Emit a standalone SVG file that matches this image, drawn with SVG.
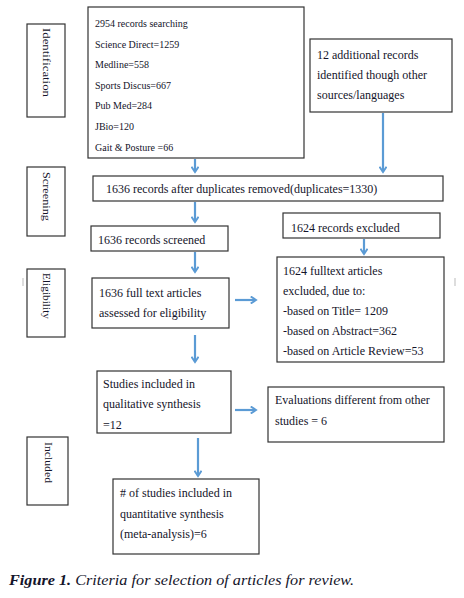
<svg xmlns="http://www.w3.org/2000/svg" width="464" height="598" viewBox="0 0 464 598">
<style>
.box{fill:#fff;stroke:#333;stroke-width:1.2}
.t{font-family:"Liberation Serif","DejaVu Serif",serif;fill:#14142a}
.s{font-size:10px}
.m{font-size:12px}
.lab{font-family:"Liberation Serif","DejaVu Serif",serif;font-size:11px;fill:#14142a}
.c{stroke:#5b9bd5;stroke-width:2.2;fill:none;marker-end:url(#ah)}
</style>
<defs>
<marker id="ah" viewBox="0 0 10 10" refX="8" refY="5" markerWidth="4" markerHeight="4" orient="auto" markerUnits="strokeWidth">
<polyline points="2,1 8,5 2,9" fill="none" stroke="#5b9bd5" stroke-width="2.2"/>
</marker>
</defs>
<rect width="464" height="598" fill="#fff"/>

<g id="lab-identification">
<rect class="box" x="27" y="24" width="38" height="93"/>
<text class="lab" transform="translate(43,28) rotate(90)" textLength="69" lengthAdjust="spacingAndGlyphs">Identification</text>
</g>
<g id="lab-screening">
<rect class="box" x="27" y="167" width="38" height="69"/>
<text class="lab" transform="translate(43,172) rotate(90)" textLength="49" lengthAdjust="spacingAndGlyphs">Screening</text>
</g>
<g id="lab-eligibility">
<rect class="box" x="27" y="269" width="38" height="68"/>
<text class="lab" transform="translate(43,273) rotate(90)" textLength="46" lengthAdjust="spacingAndGlyphs">Eligibility</text>
</g>
<g id="lab-included">
<rect class="box" x="27" y="437" width="41" height="68"/>
<text class="lab" transform="translate(45,442) rotate(90)" textLength="41" lengthAdjust="spacingAndGlyphs">Included</text>
</g>

<g id="n-search">
<rect class="box" x="88" y="7" width="216" height="151"/>
<text class="t s" x="95" y="27">2954 records searching</text>
<text class="t s" x="95" y="47.5">Science Direct=1259</text>
<text class="t s" x="95" y="68">Medline=558</text>
<text class="t s" x="95" y="88.5">Sports Discus=667</text>
<text class="t s" x="95" y="109">Pub Med=284</text>
<text class="t s" x="95" y="130" font-size="9">JBio=120</text>
<text class="t s" x="95" y="150.5">Gait &amp; Posture =66</text>
</g>
<g id="n-additional">
<rect class="box" x="310" y="39" width="142" height="73"/>
<text class="t m" x="317" y="59" font-size="12.5">12 additional records</text>
<text class="t m" x="317" y="78.5" font-size="12.5">identified though other</text>
<text class="t m" x="317" y="99" font-size="12.5">sources/languages</text>
</g>
<g id="n-dup">
<rect class="box" x="93" y="176" width="350" height="25"/>
<text class="t m" x="106" y="193">1636 records after duplicates removed(duplicates=1330)</text>
</g>
<g id="n-screened">
<rect class="box" x="91" y="226" width="137" height="25"/>
<text class="t m" x="98" y="244">1636 records screened</text>
</g>
<g id="n-excluded">
<rect class="box" x="283" y="213" width="157" height="25"/>
<text class="t m" x="291" y="231.5">1624 records excluded</text>
</g>
<g id="n-fulltext">
<rect class="box" x="92" y="278" width="137" height="50"/>
<text class="t m" x="99" y="297">1636 full text articles</text>
<text class="t m" x="99" y="317">assessed for eligibility</text>
</g>
<g id="n-ftexcluded">
<rect class="box" x="277" y="257" width="167" height="105"/>
<text class="t m" x="283" y="275">1624 fulltext articles</text>
<text class="t m" x="283" y="295">excluded, due to:</text>
<text class="t m" x="283" y="315">-based on Title= 1209</text>
<text class="t m" x="283" y="335">-based on Abstract=362</text>
<text class="t m" x="283" y="355">-based on Article Review=53</text>
</g>
<g id="n-qualitative">
<rect class="box" x="97" y="371" width="134" height="62"/>
<text class="t m" x="103" y="388">Studies included in</text>
<text class="t m" x="103" y="408">qualitative synthesis</text>
<text class="t m" x="103" y="429">=12</text>
</g>
<g id="n-evaluations">
<rect class="box" x="268" y="387" width="176" height="55"/>
<text class="t m" x="275" y="404">Evaluations different from other</text>
<text class="t m" x="275" y="425">studies = 6</text>
</g>
<g id="n-quantitative">
<rect class="box" x="113" y="479" width="146" height="75"/>
<text class="t m" x="120" y="497"># of studies included in</text>
<text class="t m" x="120" y="518">quantitative synthesis</text>
<text class="t m" x="120" y="538">(meta-analysis)=6</text>
</g>

<g id="connectors">
<line class="c" x1="195" y1="159" x2="195" y2="172"/>
<line class="c" x1="383" y1="113" x2="383" y2="172"/>
<line class="c" x1="195" y1="202" x2="195" y2="222"/>
<line class="c" x1="364" y1="239" x2="364" y2="254"/>
<line class="c" x1="195" y1="252" x2="195" y2="272"/>
<line class="c" x1="235" y1="300" x2="256" y2="300"/>
<line class="c" x1="195" y1="335" x2="195" y2="362"/>
<line class="c" x1="235" y1="410" x2="256" y2="410"/>
<line class="c" x1="198" y1="438" x2="198" y2="476"/>
</g>

<g id="ticks" stroke="#bbb" stroke-width="1">
<line x1="23" y1="278" x2="23" y2="286"/>
<line x1="455" y1="278" x2="455" y2="286"/>
</g>

<text x="9" y="585" font-family="'Liberation Serif','DejaVu Serif',serif" font-size="15" font-style="italic" fill="#14142a" textLength="345" lengthAdjust="spacingAndGlyphs"><tspan font-weight="bold">Figure 1.</tspan> Criteria for selection of articles for review.</text>
</svg>
